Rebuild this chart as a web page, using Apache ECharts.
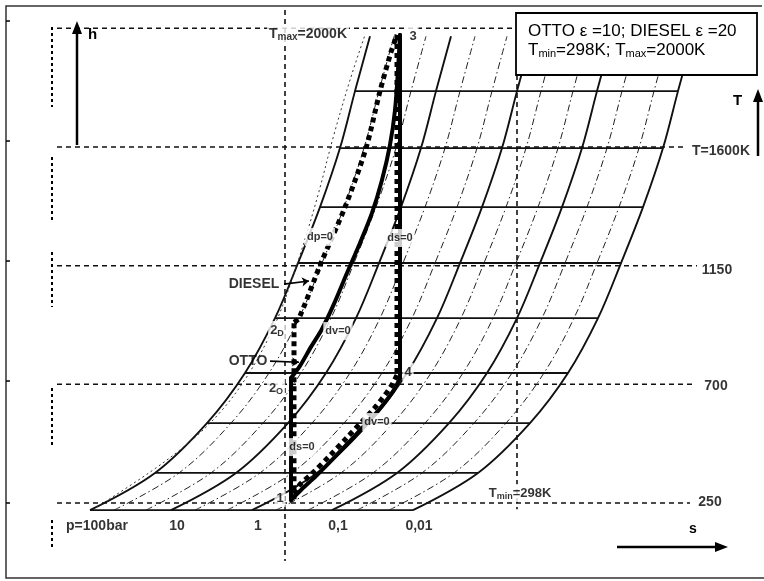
<!DOCTYPE html>
<html>
<head>
<meta charset="utf-8">
<title>h-s diagram: Otto and Diesel cycles</title>
<script src="https://cdn.jsdelivr.net/npm/echarts@6/dist/echarts.min.js"></script>
<style>
  html, body { margin: 0; padding: 0; background: #fff; }
  #chart { width: 764px; height: 581px; }
</style>
</head>
<body>
<div id="chart"></div>
<script>
// ---- diagram data (s in kJ/(kg K), h in kJ/kg) ----

// enthalpy of the solid isotherm lines
const isothermH = [223, 364, 553, 743, 951, 1160, 1372, 1596, 1812];

// the p = 100 bar isobar: entropy at each isotherm plus its upper end
const refIsobarS = [-1.63, -0.98, -0.46, -0.08, 0.22, 0.45, 0.67, 0.87, 1.02, 1.17];
const refIsobarH = [223, 364, 553, 743, 951, 1160, 1372, 1596, 1812, 2020];

// isobars (bar) and their entropy shift from the 100 bar curve
const isobarP = [100, 50, 20, 10, 5, 2, 1, 0.5, 0.2, 0.1, 0.05, 0.02, 0.01];
const isobarShift = [0, 0.24, 0.56, 0.81, 1.05, 1.37, 1.62, 1.86, 2.18, 2.42, 2.67, 2.99, 3.23];
const isobarTickLabels = ['p=100bar', '10', '1', '0,1', '0,01'];

// thin isochore to the left of the grid
const isochoreS = [-1.61, -1.03, -0.61, -0.31, -0.07, 0.12, 0.28, 0.47, 0.65, 0.80, 0.97, 1.12];
const isochoreH = [223, 367, 489, 602, 724, 849, 982, 1190, 1418, 1634, 1854, 2025];

// reference levels (dashed) and their labels
const refH = [250, 700, 1150, 1600, 2050];
const refTickLabels = ['250', '700', '1150', 'T=1600K'];
const isentropeS = 0.32;
const markerS = 2.64;

// Otto cycle (epsilon = 10)
const otto12 = [[0.38, 261], [0.38, 724]];
const otto23 = [[0.38, 724], [0.47, 770], [0.58, 842], [0.69, 910], [0.81, 1005], [0.94, 1122],
                [1.07, 1236], [1.19, 1350], [1.29, 1475], [1.37, 1608], [1.42, 1740], [1.45, 1892], [1.47, 2025]];
const otto34 = [[1.47, 2025], [1.47, 724]];
const otto41 = [[1.47, 724], [1.41, 679], [1.33, 637], [1.24, 595], [1.13, 550], [0.97, 485],
                [0.80, 417], [0.63, 352], [0.49, 303], [0.38, 261]];

// Diesel cycle (epsilon = 20)
const diesel12 = [[0.41, 264], [0.41, 935]];
const diesel23 = [[0.41, 935], [0.46, 951], [0.68, 1160], [0.92, 1372], [1.13, 1596], [1.27, 1812],
                  [1.38, 1960], [1.44, 2025]];
const diesel34 = [[1.44, 2025], [1.44, 735]];
const diesel41 = [[1.44, 735], [1.38, 692], [1.30, 650], [1.21, 608], [1.10, 563], [0.94, 498],
                  [0.77, 430], [0.60, 365], [0.46, 316], [0.38, 270]];

// ---- chart ----
const FONT = '"Liberation Sans", Arial, Helvetica, sans-serif';
const INK = '#111';
const chart = echarts.init(document.getElementById('chart'), null, { renderer: 'canvas' });
const series = [];

function line(data, style, extra) {
  return Object.assign({
    type: 'line', data: data, symbol: 'none', silent: true, animation: false,
    lineStyle: style, z: 2
  }, extra || {});
}

// isobars: decades solid, intermediate pressures dash-dot
isobarP.forEach((p, i) => {
  const lg = Math.log10(p);
  const decade = Math.abs(lg - Math.round(lg)) < 1e-9;
  series.push(line(
    refIsobarS.map((s, j) => [s + isobarShift[i], refIsobarH[j]]),
    decade ? { color: INK, width: 1.9 } : { color: '#222', width: 1, type: [7, 3, 1.5, 3] },
    { smooth: 0.35 }
  ));
});

// isochore
series.push(line(isochoreS.map((s, j) => [s, isochoreH[j]]),
  { color: '#333', width: 1, type: [2, 3] }, { smooth: 0.35 }));

// isotherms between the 100 bar and 0.01 bar isobars
const span = isobarShift[isobarShift.length - 1];
isothermH.forEach((h, j) => {
  series.push(line([[refIsobarS[j], h], [refIsobarS[j] + span, h]], { color: INK, width: 1.9 }));
});

// dashed reference levels
const refFrom = -1.96;
const refTo = [4.37, 4.42, 4.44, 4.30, 2.63];
refH.forEach((h, i) => {
  series.push(line([[refFrom, h], [refTo[i], h]], { color: INK, width: 1.5, type: [5, 4] }, { z: 1 }));
});
// dashed verticals
series.push(line([[isentropeS, 2120], [isentropeS, 30]], { color: INK, width: 1.6, type: [5, 4] }, { z: 1 }));
series.push(line([[markerS, 1873], [markerS, 226]], { color: INK, width: 1.6, type: [5, 4] }, { z: 1 }));

// cycles
const ottoStyle = { color: '#000', width: 4, cap: 'round' };
const dieselStyle = { color: '#000', width: 5, type: [5, 4], cap: 'butt' };
series.push(line(otto12, ottoStyle, { z: 4 }));
series.push(line(otto23, ottoStyle, { z: 4, smooth: 0.3 }));
series.push(line(otto34, ottoStyle, { z: 4 }));
series.push(line(otto41, ottoStyle, { z: 4, smooth: 0.3 }));
series.push(line(diesel12, dieselStyle, { z: 5 }));
series.push(line(diesel23, dieselStyle, { z: 5, smooth: 0.3 }));
series.push(line(diesel34, dieselStyle, { z: 5 }));
series.push(line(diesel41, dieselStyle, { z: 5, smooth: 0.3 }));

// pointer arrows for the cycle names
series.push({
  type: 'lines', coordinateSystem: 'cartesian2d', silent: true, animation: false, z: 6,
  symbol: ['none', 'arrow'], symbolSize: 7,
  lineStyle: { color: '#000', width: 1.6, opacity: 1 },
  data: [
    { coords: [[0.17, 788], [0.46, 784]] },
    { coords: [[0.31, 1080], [0.56, 1092]] }
  ]
});

// text annotations placed in diagram coordinates
function rich(size, weight) {
  return {
    n: { fontSize: size, fontFamily: FONT, fontWeight: weight, lineHeight: 16 },
    s: { fontSize: Math.round(size * 0.7), fontFamily: FONT, fontWeight: weight,
         lineHeight: 8, verticalAlign: 'bottom' }
  };
}
function note(s, h, text, size, weight, bg) {
  return {
    value: [s, h],
    label: {
      show: true, position: 'inside', formatter: text, color: '#000',
      rich: rich(size, weight),
      backgroundColor: bg ? '#fff' : 'transparent', padding: bg ? [1, 2, 1, 2] : 0
    }
  };
}
const notes = [
  note(1.60, 2021, '{n|3}', 13, 'bold', true),
  note(1.55, 747, '{n|4}', 13, 'bold', true),
  note(0.27, 269, '{n|1}', 13, 'bold', true),
  note(0.23, 686, '{n|2}{s|O}', 13, 'bold', true),
  note(0.24, 906, '{n|2}{s|D}', 13, 'bold', true),
  note(-0.05, 788, '{n|OTTO}', 14, 'bold', false),
  note(0.01, 1080, '{n|DIESEL}', 14, 'bold', false),
  note(0.67, 1259, '{n|dp=0}', 11, 'bold', true),
  note(1.47, 1255, '{n|ds=0}', 11, 'bold', true),
  note(0.85, 902, '{n|dv=0}', 11, 'bold', true),
  note(1.24, 557, '{n|dv=0}', 11, 'bold', true),
  note(0.49, 462, '{n|ds=0}', 11, 'bold', true),
  note(0.55, 2029, '{n|T}{s|max}{n|=2000K}', 14, 'bold', true),
  note(2.67, 288, '{n|T}{s|min}{n|=298K}', 13, 'bold', true),
  note(4.68, 1585, '{n|' + refTickLabels[3] + '}', 14, 'bold', false),
  note(4.64, 1134, '{n|' + refTickLabels[2] + '}', 14, 'bold', false),
  note(4.63, 694, '{n|' + refTickLabels[1] + '}', 14, 'bold', false),
  note(4.57, 254, '{n|' + refTickLabels[0] + '}', 14, 'bold', false)
];
// pressure tick labels under the decade isobars
isobarTickLabels.forEach((t, k) => {
  const i = isobarP.indexOf(Math.pow(10, 2 - k));
  const s = refIsobarS[0] + isobarShift[i] + (k === 0 ? 0.07 : 0.06);
  notes.push(note(s, 163, '{n|' + t + '}', 14, 'bold', false));
});
series.push({
  type: 'scatter', silent: true, animation: false, z: 10,
  symbolSize: 0, data: notes
});

// frame, axis arrows and the info box
const arrowHead = (x, y, dir) => {
  const pts = dir === 'up' ? [[x, y], [x - 5, y + 13], [x + 5, y + 13]]
                           : [[x, y], [x - 13, y - 5], [x - 13, y + 5]];
  return { type: 'polygon', shape: { points: pts }, style: { fill: '#000' }, z: 50 };
};
const dotted = (y1, y2) => ({
  type: 'polyline', shape: { points: [[52, y1], [52, y2]] },
  style: { stroke: '#000', lineWidth: 2, lineDash: [3, 3] }, z: 50
});
const graphic = [
  { type: 'polyline', shape: { points: [[762, 6], [6, 6], [6, 578], [764, 578]] },
    style: { stroke: '#333', lineWidth: 1.5, fill: null }, z: 50 },
  // h axis
  { type: 'line', shape: { x1: 77, y1: 145, x2: 77, y2: 32 }, style: { stroke: '#000', lineWidth: 2.5 }, z: 50 },
  arrowHead(77, 21, 'up'),
  { type: 'text', x: 88, y: 27, style: { text: 'h', font: 'bold 15px ' + FONT, fill: '#000' }, z: 50 },
  // T axis
  { type: 'line', shape: { x1: 758, y1: 156, x2: 758, y2: 100 }, style: { stroke: '#000', lineWidth: 2.5 }, z: 50 },
  arrowHead(758, 89, 'up'),
  { type: 'text', x: 733, y: 93, style: { text: 'T', font: 'bold 15px ' + FONT, fill: '#000' }, z: 50 },
  // s axis
  { type: 'line', shape: { x1: 617, y1: 547, x2: 716, y2: 547 }, style: { stroke: '#000', lineWidth: 2.5 }, z: 50 },
  arrowHead(728, 547, 'right'),
  { type: 'text', x: 689, y: 522, style: { text: 's', font: 'bold 14px ' + FONT, fill: '#000' }, z: 50 },
  // dotted guide on the left
  dotted(27, 107), dotted(157, 222), dotted(252, 307), dotted(388, 446), dotted(520, 548),
  // info box
  { type: 'rect', shape: { x: 516, y: 13, width: 241, height: 62 },
    style: { fill: '#fff', stroke: '#000', lineWidth: 1.8 }, z: 60 },
  { type: 'text', x: 528, y: 23, z: 61,
    style: { text: 'OTTO ε =10; DIESEL ε =20', font: '17px ' + FONT, fill: '#000' } },
  { type: 'text', x: 528, y: 41, z: 61,
    style: {
      text: '{n|T}{s|min}{n|=298K; T}{s|max}{n|=2000K}', fill: '#000',
      rich: {
        n: { fontSize: 17, fontFamily: FONT, lineHeight: 18 },
        s: { fontSize: 11, fontFamily: FONT, lineHeight: 9, verticalAlign: 'bottom' }
      }
    } }
];
[21, 141, 261, 381, 503].forEach(y => {
  graphic.push({ type: 'line', shape: { x1: 6, y1: y, x2: 10, y2: y }, style: { stroke: '#000', lineWidth: 1.5 }, z: 50 });
});

chart.setOption({
  animation: false,
  backgroundColor: '#fff',
  grid: { left: 3, right: 1, top: 2, bottom: 12.1, containLabel: false },
  xAxis: { type: 'value', min: -2.5, max: 5.1, show: false },
  yAxis: { type: 'value', min: 0, max: 2150, show: false },
  series: series,
  graphic: graphic
});
</script>
</body>
</html>
